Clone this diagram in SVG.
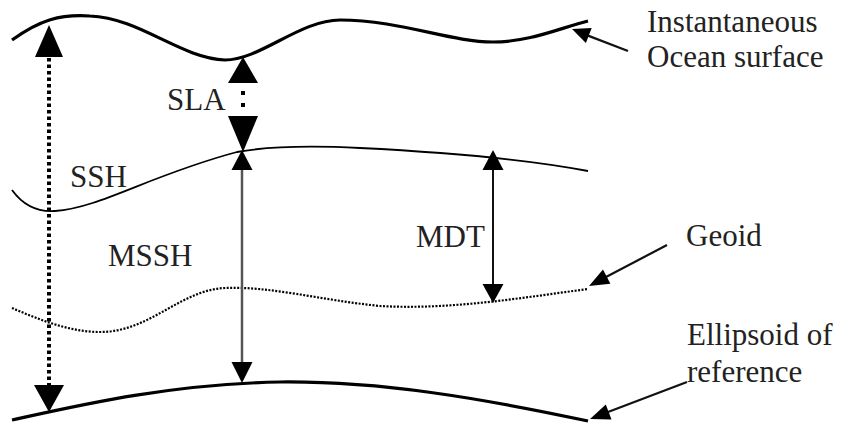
<svg xmlns="http://www.w3.org/2000/svg" width="842" height="425" viewBox="0 0 842 425">
<style>
.lbl{font-family:"Liberation Serif","Times New Roman",serif;font-size:31px;fill:#222}
.curve{fill:none;stroke:#000}
.head{fill:#000}
</style>
<rect width="842" height="425" fill="#fff"/>
<g id="surface">
<path class="curve" stroke-width="3.2" d="M12,40 C40,20 60,14 90,16 C140,18 180,58 225,60 C260,60 300,20 340,20 C400,20 450,42 493,42 C530,42 560,28 588,21"/>
</g>
<g id="ssh">
<path class="curve" stroke-width="1.8" d="M12,190 C25,208 40,212 55,211 C100,208 150,175 237,152 C270,146 320,146 360,148 C440,152 520,158 588,171"/>
</g>
<g id="geoid">
<path class="curve" stroke-width="2.2" stroke-dasharray="2 1.5" d="M12,308 C40,320 70,332 100,332 C150,332 180,290 225,288 C270,286 320,300 380,306 C450,310 520,298 588,289"/>
</g>
<g id="ellipsoid">
<path class="curve" stroke-width="3.2" d="M12,420 C80,405 170,384 280,382 C380,381 480,398 588,421"/>
</g>
<g id="labels">
<text class="lbl" x="647" y="32">Instantaneous</text>
<text class="lbl" x="647" y="67">Ocean surface</text>
<text class="lbl" x="167" y="110">SLA</text>
<text class="lbl" x="70" y="187">SSH</text>
<text class="lbl" x="108" y="266">MSSH</text>
<text class="lbl" x="416" y="247">MDT</text>
<text class="lbl" x="686" y="246">Geoid</text>
<text class="lbl" x="687" y="345">Ellipsoid of</text>
<text class="lbl" x="687" y="382">reference</text>
</g>
<g id="connectors">
<!-- dotted SSH arrow -->
<line x1="49" y1="58" x2="49" y2="385" stroke="#000" stroke-width="4" stroke-dasharray="3.5 3"/>
<polygon class="head" points="49,25 35,57 63,57"/>
<polygon class="head" points="49,412 34,385 64,385"/>
<!-- SLA -->
<polygon class="head" points="243,57 228,83 258,83"/>
<rect x="241" y="91" width="4" height="4"/>
<rect x="241" y="103" width="4" height="4"/>
<polygon class="head" points="243,152 228,116 258,116"/>
<!-- MSSH -->
<line x1="242" y1="168" x2="242" y2="364" stroke="#555" stroke-width="2.5"/>
<polygon class="head" points="242,150 231.5,170 252.5,170"/>
<polygon class="head" points="242,383 231.5,362 252.5,362"/>
<!-- MDT -->
<line x1="493" y1="168" x2="493" y2="286" stroke="#111" stroke-width="2"/>
<polygon class="head" points="493,150 482.5,170 503.5,170"/>
<polygon class="head" points="493,303 482.5,284 503.5,284"/>
<!-- pointers -->
<line x1="628" y1="51" x2="588" y2="35.6" stroke="#111" stroke-width="2.2"/>
<polygon class="head" points="572,29 591.7,28.1 585.9,43.1"/>
<line x1="667" y1="245" x2="606" y2="277" stroke="#111" stroke-width="2.2"/>
<polygon class="head" points="589,286 610.4,283.8 603,269.6"/>
<line x1="687" y1="382" x2="608" y2="412" stroke="#111" stroke-width="2.2"/>
<polygon class="head" points="590,419 611.5,419.4 605.8,404.4"/>
</g>
</svg>
